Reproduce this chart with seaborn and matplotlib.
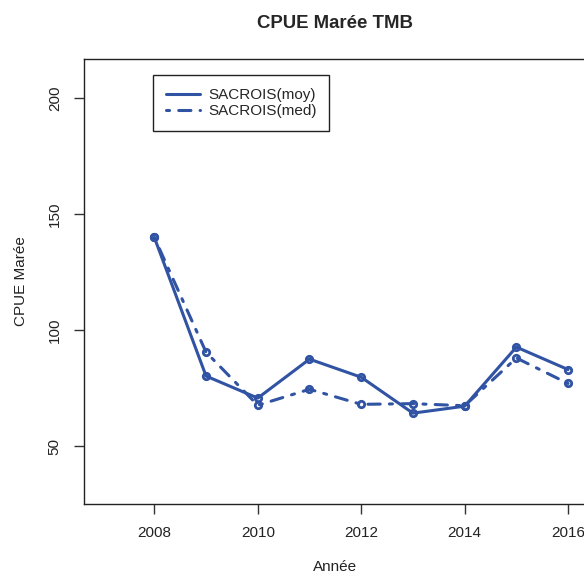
import matplotlib
matplotlib.use("Agg")
import matplotlib.pyplot as plt
import seaborn as sns
import pandas as pd
from matplotlib.lines import Line2D

years = [2008, 2009, 2010, 2011, 2012, 2013, 2014, 2015, 2016]
moy = [140.0, 80.2, 70.7, 87.5, 79.7, 64.2, 67.2, 92.7, 83.0]
med = [140.0, 90.5, 67.6, 74.5, 68.0, 68.3, 67.4, 88.0, 77.0]
labels = ["SACROIS(moy)", "SACROIS(med)"]
xticks = [2008, 2010, 2012, 2014, 2016]
yticks = [50, 100, 150, 200]

sns.set_theme(style="white")
plt.rcParams['font.family'] = ['Liberation Sans', 'DejaVu Sans']

color = "#3153A3"
fig = plt.figure(figsize=(5.84, 5.77), dpi=100)
W, H = 584, 577
left, right, top, bottom = 84, 586.7, 59, 504
ax = fig.add_axes([left / W, 1 - bottom / H, (right - left) / W, (bottom - top) / H])

df = pd.DataFrame({"year": years, "moy": moy, "med": med})
common = dict(color=color, lw=2.2, marker="o", markersize=4.6,
              markerfacecolor="none", markeredgecolor=color, markeredgewidth=2.0,
              ax=ax, legend=False)
sns.lineplot(data=df, x="year", y="moy", solid_capstyle="round", **common)
sns.lineplot(data=df, x="year", y="med", linestyle=(0, (1, 3, 4, 3)),
             dash_capstyle="round", **common)

ax.set_xlim(2006.64, 2016.36)
ax.set_ylim(25, 217)
ax.set_xticks(xticks)
ax.set_xticklabels([str(v) for v in xticks], fontsize=11, color="#222222")
ax.set_yticks(yticks)
ax.set_yticklabels([str(v) for v in yticks], fontsize=11, rotation=90,
                   va="center", color="#222222")
ax.tick_params(axis="both", direction="out", length=7, width=1, color="#333333",
               bottom=True, left=True, pad=9)
for s in ax.spines.values():
    s.set_color("#222222")
    s.set_linewidth(1.0)

ax.set_xlabel("Année", fontsize=11, color="#222222", labelpad=14)
ax.set_ylabel("CPUE Marée", fontsize=11, color="#222222", labelpad=14)
ax.set_title("CPUE Marée TMB", fontsize=13.4, fontweight="bold", pad=22)

handles = [Line2D([0], [0], color=color, lw=2.2, solid_capstyle="round"),
           Line2D([0], [0], color=color, lw=2.2, linestyle=(0, (1, 3, 4, 3)),
                  dash_capstyle="round")]
leg = ax.legend(handles, labels, loc="upper left",
                bbox_to_anchor=((153 - left) / (right - left), 1 - (75 - top) / (bottom - top)),
                fontsize=11, frameon=True, fancybox=False, framealpha=1,
                edgecolor="#222222", handlelength=2.2, handletextpad=0.55,
                labelspacing=0.15, borderpad=0.85, borderaxespad=0)
leg.get_frame().set_linewidth(1.0)

fig.savefig("out.png", dpi=100)
